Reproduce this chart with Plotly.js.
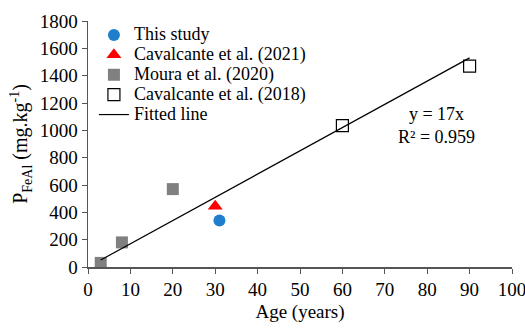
<!DOCTYPE html>
<html><head><meta charset="utf-8">
<script src="https://cdn.plot.ly/plotly-3.0.1.min.js"></script>
<style>body{margin:0;background:#fff}#c{width:525px;height:328px}</style>
</head><body><div id="c"></div>
<script>
const thisStudyX = [31];
const thisStudyY = [340];
const cav2021X = [30];
const cav2021Y = [445];
const mouraX = [3, 8, 20];
const mouraY = [30, 180, 570];
const cav2018X = [60, 90];
const cav2018Y = [1035, 1470];
const fitX = [3, 90];
const fitY = [51, 1530];
const xTicks = [0,10,20,30,40,50,60,70,80,90,100];
const yTicks = [0,200,400,600,800,1000,1200,1400,1600,1800];
const names = ['This study','Cavalcante et al. (2021)','Moura et al. (2020)','Cavalcante et al. (2018)','Fitted line'];

const F = "Liberation Serif, Times New Roman, serif";
const big = s => '<span style="font-size:18px">' + s + '</span>';
const traces = [
  {x: thisStudyX, y: thisStudyY, mode:'markers', type:'scatter', name:big(names[0]),
   marker:{symbol:'circle', size:12, color:'#1f7fcc'}},
  {x: cav2021X, y: cav2021Y, mode:'markers', type:'scatter', name:big(names[1]),
   marker:{symbol:'triangle-up', size:13, color:'#ff0000'}},
  {x: mouraX, y: mouraY, mode:'markers', type:'scatter', name:big(names[2]),
   marker:{symbol:'square', size:12, color:'#808080'}},
  {x: cav2018X, y: cav2018Y, mode:'markers', type:'scatter', name:big(names[3]),
   marker:{symbol:'square-open', size:12, color:'#000', line:{width:1.2}}},
  {x: fitX, y: fitY, mode:'lines', type:'scatter', name:big(names[4]),
   line:{color:'#000', width:1.2}}
];
const layout = {
  width:525, height:328,
  margin:{l:88, r:13, t:21, b:61},
  paper_bgcolor:'#fff', plot_bgcolor:'#fff',
  font:{family:F, size:19, color:'#000'},
  showlegend:true,
  legend:{x:0.014, y:1.004, xanchor:'left', yanchor:'top', bgcolor:'rgba(0,0,0,0)',
    font:{family:F, size:13}, tracegroupgap:0, itemwidth:30},
  xaxis:{range:[0,100], tickvals:xTicks, ticks:'outside', ticklen:5, tickcolor:'#555',
    showline:true, linecolor:'#555', linewidth:1.5, showgrid:false, zeroline:false,
    ticklabeloverflow:'allow',
    tickfont:{family:F, size:19}, title:{text:'Age (years)', font:{family:F, size:19}, standoff:5}},
  yaxis:{range:[0,1800], tickvals:yTicks, ticks:'outside', ticklen:5, tickcolor:'#555',
    showline:true, linecolor:'#555', linewidth:1.5, showgrid:false, zeroline:false,
    tickfont:{family:F, size:19},
    title:{text:'P<sub>FeAl</sub> (mg.kg<sup>-1</sup>)', font:{family:F, size:20}, standoff:6}},
  annotations:[
    {x:0.821, y:0.577, xref:'paper', yref:'paper', xanchor:'center', yanchor:'middle',
     showarrow:false, align:'center',
     text:'y = 17x<br>R² = 0.959', font:{family:F, size:18}}
  ]
};
Plotly.newPlot('c', traces, layout, {displayModeBar:false, staticPlot:true});
</script></body></html>
